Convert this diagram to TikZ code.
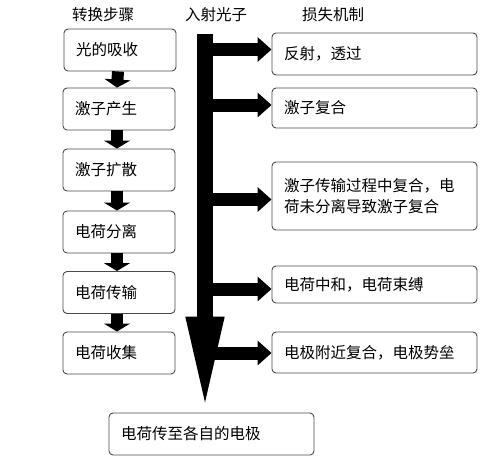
\documentclass[tikz,border=0pt]{standalone}
\usepackage{fontspec}
\setmainfont{Noto Sans CJK SC}
\usetikzlibrary{arrows.meta}
\definecolor{boxline}{HTML}{4A4A4A}
\tikzset{
  box/.style={draw=boxline, line width=0.9pt, rounded corners=4pt, inner xsep=12pt, inner ysep=0pt,
    minimum height=42pt, align=left, font=\fontsize{15.5}{21}\selectfont},
  lbox/.style={box, text width=88pt},
  rbox/.style={box, text width=181pt},
  hdr/.style={font=\fontsize{15.5}{19}\selectfont, inner sep=0pt},
  varrow/.style={line width=12pt, -{Triangle[length=8pt,width=26pt]}},
  harrow/.style={line width=13pt, -{Triangle[length=14pt,width=24pt]}},
  bigarrow/.style={line width=16pt, -{Triangle[length=96pt,width=34pt]}}
}
\begin{document}
\begin{tikzpicture}[x=1pt,y=-1pt]
\useasboundingbox (0,0) rectangle (498,463);
% headers
\node[hdr] (h1) at (103,15) {转换步骤};
\node[hdr] (h2) at (216,15) {入射光子};
\node[hdr] (h3) at (333,15) {损失机制};
% left column
\node[lbox] (l1) at (120,50) {光的吸收};
\node[lbox] (l2) at (119,109) {激子产生};
\node[lbox] (l3) at (119,170) {激子扩散};
\node[lbox] (l4) at (119,232) {电荷分离};
\node[lbox] (l5) at (119,292.5) {电荷传输};
\node[lbox] (l6) at (119,353) {电荷收集};
% bottom
\node[box, text width=181pt] (b) at (211.5,434) {电荷传至各自的电极};
% right column
\node[rbox] (r1) at (374.5,54) {反射，透过};
\node[rbox, minimum height=40pt] (r2) at (374.5,108) {激子复合};
\node[rbox, minimum height=68pt] (r3) at (374.5,196) {激子传输过程中复合，电\\荷未分离导致激子复合};
\node[rbox, minimum height=37pt] (r4) at (374.5,284.5) {电荷中和，电荷束缚};
\node[rbox, minimum height=41pt] (r5) at (374.5,352.5) {电极附近复合，电极势垒};
% small down arrows
\foreach \a/\b in {l1/l2,l2/l3,l3/l4,l4/l5,l5/l6}
  \draw[varrow] ([xshift=-2pt]\a.south) -- ([xshift=-2pt]\b.north);
% big arrow
\coordinate (top) at (205,34);
\draw[bigarrow] (top) -- (top |- b.north);
% side arrows
\coordinate (a1) at (213,49.5);
\coordinate (a2) at (213,105);
\coordinate (a3) at (213,199.5);
\coordinate (a4) at (213,289);
\coordinate (a5) at (213,353);
\draw[harrow] (a1) -- (a1 -| r1.west);
\draw[harrow] (a2) -- (a2 -| r2.west);
\draw[harrow] (a3) -- (a3 -| r3.west);
\draw[harrow] (a4) -- (a4 -| r4.west);
\draw[harrow] (a5) -- (a5 -| r5.west);
\end{tikzpicture}
\end{document}
